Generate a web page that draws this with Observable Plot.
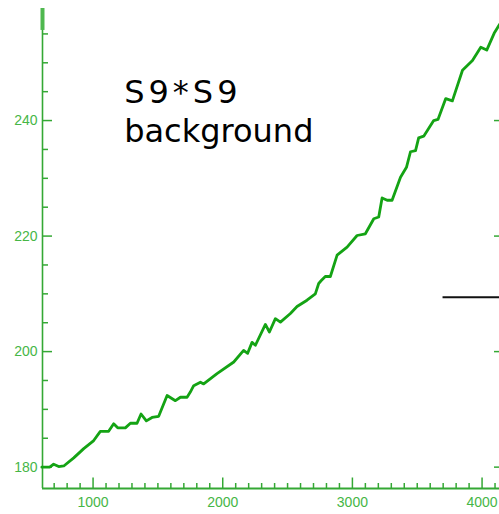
<!DOCTYPE html>
<html>
<head>
<meta charset="utf-8">
<script src="https://cdn.jsdelivr.net/npm/d3@7"></script>
<script src="https://cdn.jsdelivr.net/npm/@observablehq/plot@0.6"></script>
<style>
  html, body { margin: 0; padding: 0; background: white; }
  svg { overflow: hidden; display: block; }
  svg text.ticklab { font-size: 14px !important; }
</style>
</head>
<body>
<div id="chart"></div>
<script>
// Background curve (x: channel, y: value)
const xValues = [605, 665, 696, 735, 774, 851, 928, 1005, 1056, 1120, 1159, 1190, 1249, 1288, 1339, 1370, 1411, 1455, 1506, 1571, 1635, 1674, 1725, 1750, 1776, 1828, 1853, 1956, 2085, 2161, 2192, 2226, 2252, 2329, 2360, 2406, 2445, 2522, 2573, 2650, 2714, 2740, 2760, 2791, 2830, 2882, 2959, 3036, 3100, 3165, 3203, 3229, 3268, 3306, 3371, 3417, 3448, 3487, 3511, 3550, 3627, 3660, 3720, 3771, 3849, 3926, 3990, 4036, 4093, 4131, 4165];
const yValues = [180, 180, 180.5, 180.1, 180.2, 181.6, 183.2, 184.6, 186.2, 186.2, 187.5, 186.8, 186.8, 187.6, 187.6, 189.2, 188.0, 188.6, 188.8, 192.4, 191.5, 192.1, 192.1, 193.0, 194.1, 194.7, 194.4, 196.2, 198.2, 200.2, 199.7, 201.6, 201.1, 204.7, 203.4, 205.7, 205.1, 206.6, 207.8, 208.9, 210.0, 211.8, 212.3, 213.0, 213.0, 216.7, 218.1, 220.1, 220.4, 223.0, 223.3, 226.6, 226.2, 226.2, 230.2, 231.9, 234.6, 234.8, 237.0, 237.3, 240.0, 240.2, 243.8, 243.4, 248.7, 250.4, 252.7, 252.2, 255.1, 256.5, 257.6];

const xTicks = [1000, 2000, 3000, 4000];
const yTicks = [180, 200, 220, 240];
const labelLines = ["S9*S9", "background"];
const refLineY = [209.4];

const xMin = 610, xMax = 4200, yMin = 176.3, yMax = 259.4;
const rightAxisX = 4173;
const pxX = 7.712;   // x units per pixel
const pxY = 1 / 5.776; // y units per pixel

const data = xValues.map((x, i) => ({x, y: yValues[i]}));
const xMinor = d3.range(700, 4200, 100).filter(v => v % 1000 !== 0);
const yMinor = d3.range(180, 260, 5).filter(v => v % 20 !== 0);

const axisColor = "#34a834";
const labelColor = "#46b646";

const chart = Plot.plot({
  width: 499,
  height: 514,
  marginTop: 8,
  marginBottom: 26,
  marginLeft: 42,
  marginRight: 0,
  style: {background: "white", fontFamily: "'Liberation Sans', Arial, sans-serif", overflow: "hidden"},
  x: {domain: [xMin, xMax], range: [42, 507.5]},
  y: {domain: [yMin, yMax], range: [488, 8]},
  marks: [
    // axis lines
    Plot.ruleY([yMin], {x1: xMin, x2: xMax, stroke: axisColor, strokeWidth: 2}),
    Plot.ruleX([xMin], {y1: yMin, y2: yMax, stroke: axisColor, strokeWidth: 1.6}),
    Plot.ruleX([xMin], {y1: 255.6, y2: yMax, stroke: "#4fb84f", strokeWidth: 4}),
    Plot.ruleX([rightAxisX], {y1: yMin, y2: yMax, stroke: axisColor, strokeWidth: 1.6}),
    // x ticks (inward)
    Plot.ruleX(xMinor, {x: d => d, y1: yMin, y2: yMin + 5 * pxY, stroke: axisColor, strokeWidth: 1.5}),
    Plot.ruleX(xTicks, {x: d => d, y1: yMin, y2: yMin + 10.5 * pxY, stroke: axisColor, strokeWidth: 1.5}),
    // y ticks (inward)
    Plot.ruleY(yMinor, {y: d => d, x1: xMin, x2: xMin + 6 * pxX, stroke: axisColor, strokeWidth: 1.5}),
    Plot.ruleY(yTicks, {y: d => d, x1: xMin, x2: xMin + 10 * pxX, stroke: axisColor, strokeWidth: 1.5}),
    Plot.ruleY(yTicks, {y: d => d, x1: rightAxisX - 10 * pxX, x2: rightAxisX, stroke: axisColor, strokeWidth: 1.5}),
    // tick labels
    Plot.axisX({ticks: xTicks, tickSize: 0, tickPadding: 9, tickFormat: d => String(d), fill: labelColor, label: null}),
    Plot.axisY({ticks: yTicks, tickSize: 0, tickPadding: 5, tickFormat: d => String(d), fill: labelColor, label: null}),
    // reference black segment
    Plot.ruleY(refLineY, {x1: 3699, x2: xMax, stroke: "#111", strokeWidth: 2}),
    // curve
    Plot.line(data, {x: "x", y: "y", stroke: "#14a314", strokeWidth: 2.8, strokeLinejoin: "round", curve: "linear"}),
    // annotation
    Plot.text([labelLines[0]], {x: 1240, y: 246.9, text: d => d, textAnchor: "start", lineAnchor: "top", fontSize: 32, fill: "black", fontFamily: "'DejaVu Sans', sans-serif"}),
    Plot.text([labelLines[1]], {x: 1240, y: 240.2, text: d => d, textAnchor: "start", lineAnchor: "top", fontSize: 32, fill: "black", fontFamily: "'DejaVu Sans', sans-serif"})
  ]
});

const tickStrings = new Set([...xTicks, ...yTicks].map(String));
const svgSel = d3.select(chart);
svgSel.selectAll("text").filter(function() { return tickStrings.has(this.textContent.trim()); })
  .attr("class", "ticklab").attr("font-size", 14);
svgSel.selectAll("text").filter(function() { return this.textContent === labelLines[0]; })
  .attr("letter-spacing", "4px");

document.getElementById("chart").appendChild(chart);
</script>
</body>
</html>
